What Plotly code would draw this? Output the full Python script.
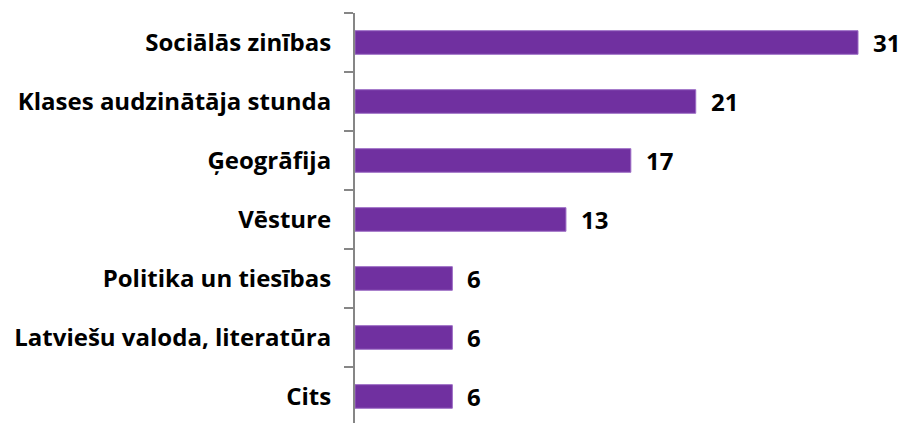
import plotly.graph_objects as go

categories = ["Sociālās zinības", "Klases audzinātāja stunda", "Ģeogrāfija", "Vēsture",
              "Politika un tiesības", "Latviešu valoda, literatūra", "Cits"]
values = [31, 21, 17, 13, 6, 6, 6]

FONT = "Open Sans"
fig = go.Figure(go.Bar(
    x=values, y=categories, orientation="h",
    marker=dict(color="#7030A0", line=dict(color="#9B6BC4", width=1)),
    width=0.4,
    cliponaxis=False,
))

for c, v in zip(categories, values):
    fig.add_annotation(x=v, y=c, text=str(v), showarrow=False, xanchor="left",
                       xshift=13, font=dict(family=FONT, size=24, color="#000000", weight="bold"))

fig.update_layout(
    width=906, height=423,
    margin=dict(l=355, r=0, t=13, b=0),
    paper_bgcolor="white", plot_bgcolor="white",
    showlegend=False,
    xaxis=dict(range=[0, 551 / (503 / 31)], visible=False, fixedrange=True),
    yaxis=dict(
        type="category", categoryorder="array", categoryarray=categories,
        range=[6.45, -0.5],
        showline=True, linecolor="#868686", linewidth=2,
        ticks="outside", tickson="boundaries", ticklen=9, tickwidth=2, tickcolor="#868686",
        ticklabelstandoff=17,
        tickfont=dict(family=FONT, size=24, color="#000000", weight="bold"),
        showgrid=False, zeroline=False,
    ),
)

fig.write_html("out.html")
